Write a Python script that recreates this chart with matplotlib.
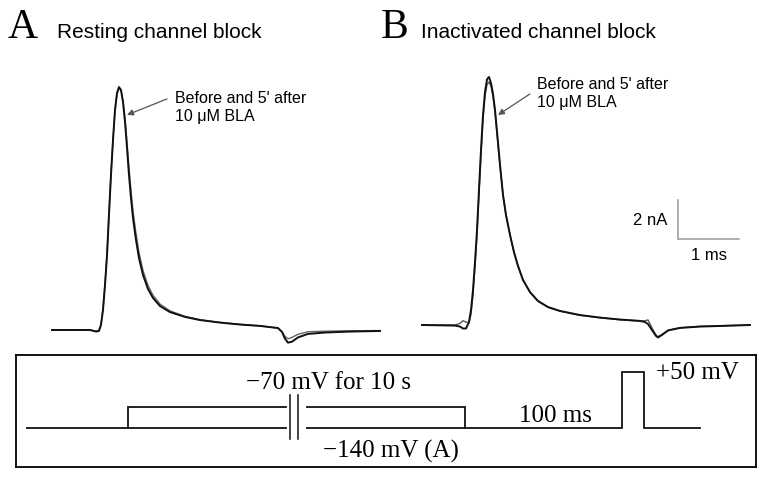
import matplotlib.pyplot as plt

# ---- current traces (time in ms, current in nA) ----
t_a = [0.000, 0.623, 0.721, 0.770, 0.803, 0.836, 0.869, 0.902, 0.934, 0.967,
       1.000, 1.033, 1.066, 1.098, 1.131, 1.164, 1.197, 1.230, 1.262, 1.295,
       1.328, 1.377, 1.426, 1.492, 1.574, 1.656, 1.770, 1.934, 2.180, 2.426,
       2.754, 3.082, 3.410, 3.705, 3.770, 3.820, 3.869, 3.934, 4.033, 4.197,
       4.475, 4.885, 5.377]
i_a_before = [0.00, 0.00, -0.08, -0.05, 0.26, 1.03, 2.31, 3.85, 5.90, 7.95,
              9.74, 11.28, 12.15, 12.46, 12.31, 11.69, 10.67, 9.33, 7.95, 6.77,
              5.74, 4.62, 3.69, 2.82, 2.10, 1.64, 1.23, 0.92, 0.67, 0.51,
              0.38, 0.28, 0.21, 0.10, -0.10, -0.45, -0.65, -0.60, -0.38, -0.20,
              -0.13, -0.08, -0.05]
i_a_after = [0.00, 0.00, -0.06, -0.03, 0.28, 1.08, 2.36, 3.90, 5.95, 8.00,
             9.80, 11.30, 12.12, 12.42, 12.30, 11.75, 10.85, 9.60, 8.30, 7.15,
             6.10, 4.95, 3.98, 3.05, 2.28, 1.78, 1.33, 0.98, 0.70, 0.53,
             0.39, 0.29, 0.21, 0.10, -0.08, -0.33, -0.45, -0.38, -0.22, -0.09,
             -0.06, -0.04, -0.03]

t_b = [0.000, 0.541, 0.623, 0.672, 0.721, 0.770, 0.803, 0.836, 0.869, 0.902,
       0.934, 0.967, 1.000, 1.033, 1.066, 1.098, 1.131, 1.164, 1.197, 1.230,
       1.279, 1.328, 1.377, 1.443, 1.508, 1.574, 1.656, 1.770, 1.902, 2.066,
       2.262, 2.590, 2.918, 3.246, 3.574, 3.656, 3.705, 3.770, 3.836, 3.869,
       3.934, 4.033, 4.230, 4.557, 4.885, 5.377]
i_b_before = [0.00, -0.03, -0.08, -0.18, -0.18, 0.15, 0.77, 1.79, 3.23, 4.87,
              6.92, 8.97, 10.77, 11.95, 12.60, 12.72, 12.41, 11.85, 11.03, 9.90,
              8.21, 6.67, 5.64, 4.62, 3.74, 3.03, 2.31, 1.69, 1.23, 0.92,
              0.72, 0.51, 0.38, 0.28, 0.21, 0.15, 0.05, -0.26, -0.56, -0.64,
              -0.51, -0.28, -0.15, -0.08, -0.05, 0.00]
i_b_after = [0.00, 0.00, 0.08, 0.22, 0.15, 0.10, 0.55, 1.55, 3.00, 4.65,
             6.70, 8.75, 10.55, 11.75, 12.33, 12.46, 12.25, 11.70, 10.90, 9.80,
             8.15, 6.65, 5.62, 4.60, 3.72, 3.01, 2.30, 1.68, 1.22, 0.91,
             0.71, 0.50, 0.37, 0.27, 0.20, 0.22, 0.26, -0.15, -0.52, -0.60,
             -0.49, -0.27, -0.14, -0.07, -0.04, 0.00]

# ---- scale bar ----
bar_ms = 1
bar_na = 2

# ---- voltage protocol (schematic time units, mV) ----
hold_mv = -140
pre_mv = -70
test_mv = 50
t_start, t_pre_on, t_break_l, t_break_r = 27, 128, 286, 307
t_pre_off, t_test_on, t_test_off, t_end = 465, 622, 644, 700

W, H = 768, 479


def rect(x0, y0, x1, y1):
    # pixel box (top-left origin) -> figure fraction
    return [x0 / W, 1 - y1 / H, (x1 - x0) / W, (y1 - y0) / H]


sans = 'Liberation Sans'
serif = 'Liberation Serif'

fig = plt.figure(figsize=(W / 100, H / 100), dpi=100)

# 1 ms = 61 px, 1 nA = 19.5 px
ax_a = fig.add_axes(rect(40, 60, 390, 350))
ax_a.set_xlim(-12 / 61, 338 / 61)
ax_a.set_ylim(-20 / 19.5, 270 / 19.5)
ax_b = fig.add_axes(rect(410, 60, 760, 350))
ax_b.set_xlim(-12 / 61, 338 / 61)
ax_b.set_ylim(-25 / 19.5, 265 / 19.5)
for ax in (ax_a, ax_b):
    ax.axis('off')

ax_a.plot(t_a, i_a_after, color='#666666', lw=1.0)
ax_a.plot(t_a, i_a_before, color='#111111', lw=1.4)
ax_b.plot(t_b, i_b_after, color='#555555', lw=1.0)
ax_b.plot(t_b, i_b_before, color='#111111', lw=1.4)

label = "Before and 5' after\n10 \u03bcM BLA"
arrow = dict(arrowstyle='-|>', color='#555555', lw=0.9,
             mutation_scale=9, shrinkA=0, shrinkB=0)
ax_a.annotate('', xy=(1.23, 11.03), xytext=(1.885, 11.85), arrowprops=arrow)
ax_a.text(2.016, 11.41, label, family=sans, fontsize=11.5, ha='left',
          va='center', linespacing=1.2)
ax_b.annotate('', xy=(1.246, 10.77), xytext=(1.77, 11.85), arrowprops=arrow)
ax_b.text(1.885, 11.87, label, family=sans, fontsize=11.5, ha='left',
          va='center', linespacing=1.2)

# scale bar
sx, sy = 4.197, 4.41
ax_b.plot([sx, sx, sx + bar_ms], [sy + bar_na, sy, sy], color='#999999',
          lw=1.1, solid_joinstyle='miter')
ax_b.text(sx - 0.18, sy + bar_na / 2 - 0.05, f'{bar_na} nA', family=sans,
          fontsize=12, ha='right', va='center')
ax_b.text(sx + bar_ms / 2, sy - 0.85, f'{bar_ms} ms', family=sans,
          fontsize=12, ha='center', va='center')

# panel titles
fig.text(8 / W, 1 - 38.5 / H, 'A', family=serif, fontsize=30, va='baseline')
fig.text(57 / W, 1 - 38.5 / H, 'Resting channel block', family=sans,
         fontsize=15, va='baseline')
fig.text(381 / W, 1 - 38.5 / H, 'B', family=serif, fontsize=30, va='baseline')
fig.text(421 / W, 1 - 38.5 / H, 'Inactivated channel block', family=sans,
         fontsize=15, va='baseline')

# protocol box: 56 px per 190 mV
mv_px = 56 / 190
ax_p = fig.add_axes(rect(16, 355, 756, 467))
ax_p.set_xlim(16, 756)
ax_p.set_ylim(hold_mv - 39 / mv_px, hold_mv + 73 / mv_px)
ax_p.set_xticks([])
ax_p.set_yticks([])
for sp in ax_p.spines.values():
    sp.set_linewidth(1.3)

kw = dict(color='#111111', lw=1.3, solid_joinstyle='miter')
ax_p.plot([t_start, t_break_l], [hold_mv, hold_mv], **kw)
ax_p.plot([t_pre_on, t_pre_on, t_break_l], [hold_mv, pre_mv, pre_mv], **kw)
ax_p.plot([t_break_r, t_pre_off, t_pre_off], [pre_mv, pre_mv, hold_mv], **kw)
ax_p.plot([t_break_r, t_test_on, t_test_on, t_test_off, t_test_off, t_end],
          [hold_mv, hold_mv, test_mv, test_mv, hold_mv, hold_mv], **kw)
gap = t_break_r - t_break_l
for bx in (t_break_l + gap * 0.19, t_break_l + gap * 0.57):
    ax_p.plot([bx, bx], [-28, -177], color='#111111', lw=1.1)

ax_p.text(329, 13, '\u221270 mV for 10 s', family=serif, fontsize=18,
          ha='center', va='center')
ax_p.text(656, 47, '+50 mV', family=serif, fontsize=18, ha='left',
          va='center')
ax_p.text(555, -99, '100 ms', family=serif, fontsize=18, ha='center',
          va='center')
ax_p.text(391, -221, '\u2212140 mV (A)', family=serif, fontsize=18,
          ha='center', va='center')

fig.savefig('out.png', dpi=100)
